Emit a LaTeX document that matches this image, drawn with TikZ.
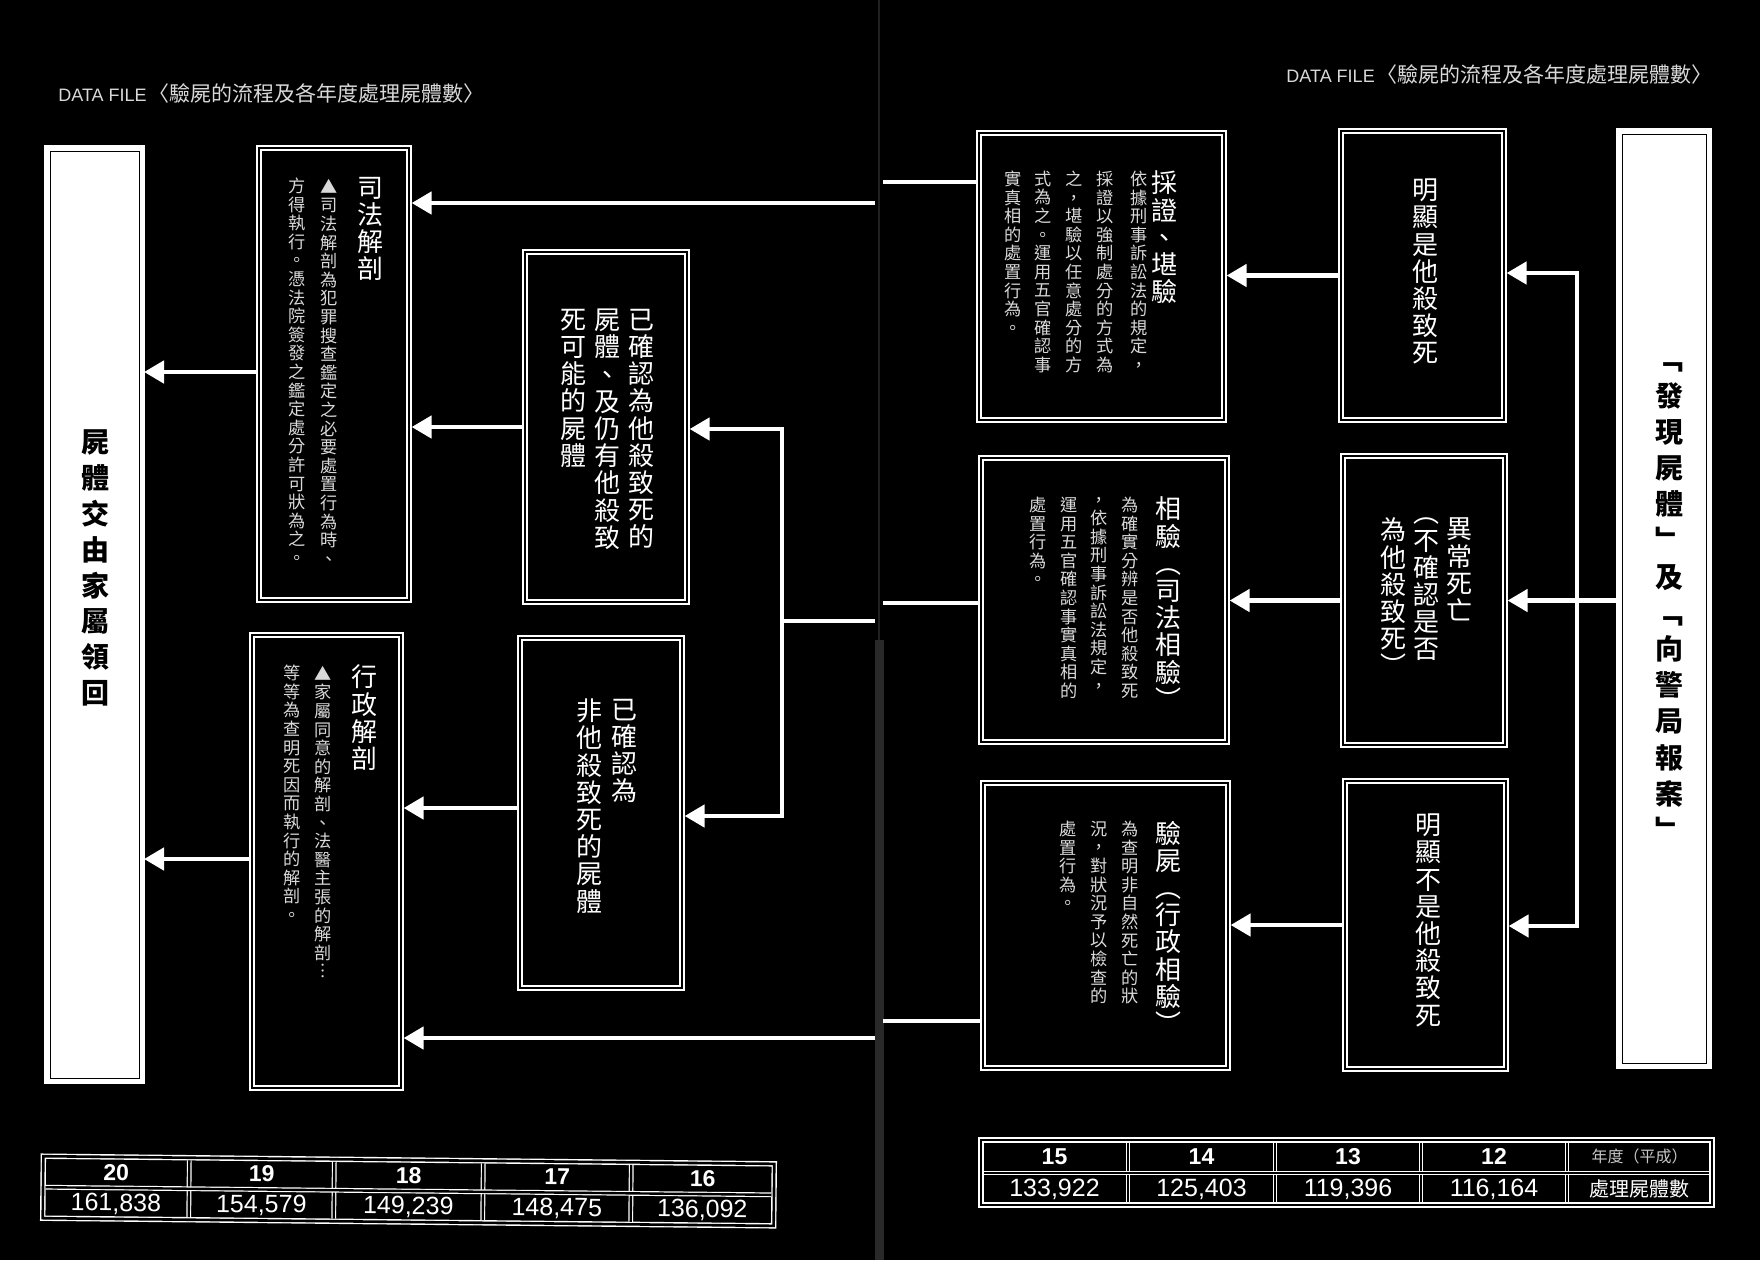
\documentclass[tikz,border=0pt]{standalone}
\usepackage{fontspec}
\usetikzlibrary{arrows.meta}
\newfontfamily\cjk{Noto Sans CJK TC}
\newfontfamily\latf{Liberation Sans}
\def\vtA#1#2{\hbox to 1em{\hss#1\hss}\ifx\relax#2\else\expandafter\vtA\expandafter#2\fi}
\newcommand\vchars[1]{\vbox{\lineskiplimit=-100pt\relax\vtA#1\relax}}
\tikzset{
  dbox/.style={rectangle, draw=white, line width=0.7pt, double=black, double distance=1.3pt, inner sep=0pt, outer sep=1.3pt},
  wbox/.style={rectangle, fill=white, draw=white, line width=0.6pt, inner sep=0pt, outer sep=0pt},
  wire/.style={draw=white, line width=2.3pt},
  arr/.style={wire, -{Triangle[length=10pt,width=11pt]}},
  arr2/.style={wire, {Triangle[length=10pt,width=11pt]}-{Triangle[length=10pt,width=11pt]}},
  vt/.style={inner sep=0pt, outer sep=0pt, anchor=north, text=white},
  ttl/.style={vt, font={\cjk\fontsize{13}{13.6}\selectfont}},
  dsc/.style={vt, text=white!85!black, font={\cjk\fontsize{8.6}{9.3}\selectfont}},
  big/.style={vt, text=black, font={\cjk\bfseries\fontsize{14}{17.9}\selectfont}},
  dline/.style={draw=white, line width=0.6pt, double=black, double distance=1.2pt},
  frame/.style={rectangle, draw=white, line width=0.7pt, double=black, double distance=1.3pt, inner sep=0pt, outer sep=0pt},
  yr/.style={inner sep=0pt, text=white, font={\latf\bfseries\fontsize{11.5}{11.5}\selectfont}},
  num/.style={inner sep=0pt, text=white, font={\latf\fontsize{12.5}{12.5}\selectfont}},
  ttlbar/.style={anchor=west, inner sep=0pt, text=white!85!black, font={\latf\fontsize{9}{9}\selectfont}},
}
\begin{document}
\begin{tikzpicture}[x=0.5pt,y=-0.5pt]
\useasboundingbox (0,0) rectangle (1760,1260);
\fill[black] (0,0) rectangle (1760,1260);
% gutter
\fill[black!84!white] (875,640) rectangle (884,1260);
\draw[black!88!white, line width=1pt] (879,0) -- (879,640);

% boxes
\node[wbox, minimum width=49.5pt, minimum height=468.5pt] (WL) at (94.5,614.5) {};
\draw[black, line width=0.5pt] ([shift={(5,5)}]WL.north west) rectangle ([shift={(-5,-5)}]WL.south east);
\node[dbox, minimum width=75pt, minimum height=226pt] (SJ) at (334,374) {};
\node[dbox, minimum width=74.5pt, minimum height=226.5pt] (XJ) at (326.5,861.5) {};
\node[dbox, minimum width=81pt, minimum height=175pt] (G) at (606,427) {};
\node[dbox, minimum width=81pt, minimum height=175pt] (H) at (601,813) {};
\node[dbox, minimum width=122.5pt, minimum height=143.5pt] (D) at (1101.5,276.5) {};
\node[dbox, minimum width=123pt, minimum height=142pt] (E) at (1104,600) {};
\node[dbox, minimum width=122.5pt, minimum height=142.5pt] (F) at (1105.5,925.5) {};
\node[dbox, minimum width=81.5pt, minimum height=144.5pt] (A) at (1422.5,275.5) {};
\node[dbox, minimum width=81pt, minimum height=144.5pt] (B) at (1424,600.5) {};
\node[dbox, minimum width=80.5pt, minimum height=144pt] (C) at (1425.5,925) {};
\node[wbox, minimum width=47pt, minimum height=469.5pt] (WR) at (1664,598.5) {};
\draw[black, line width=0.5pt] ([shift={(5,5)}]WR.north west) rectangle ([shift={(-5,-5)}]WR.south east);

% texts
\node[big] (WLt) at (95,430) {\vchars{屍體交由家屬領回}};
\node[big, font={\cjk\bfseries\fontsize{14}{18.1}\selectfont}] (WRt) at (1669,363) {\vchars{﹁發現屍體﹂及﹁向警局報案﹂}};

\node[ttl] (SJt) at (370,177) {\vchars{司法解剖}};
\node[dsc] (SJd1) at (329,179) {\vchars{▲司法解剖為犯罪搜查鑑定之必要處置行為時、}};
\node[dsc] (SJd2) at (297,178) {\vchars{方得執行。憑法院簽發之鑑定處分許可狀為之。}};

\node[ttl] (XJt) at (364,665) {\vchars{行政解剖}};
\node[dsc] (XJd1) at (323,666) {\vchars{▲家屬同意的解剖、法醫主張的解剖︙}};
\node[dsc] (XJd2) at (292,665) {\vchars{等等為查明死因而執行的解剖。}};

\node[ttl] (Gc1) at (641,309) {\vchars{已確認為他殺致死的}};
\node[ttl] (Gc2) at (607,309) {\vchars{屍體、及仍有他殺致}};
\node[ttl] (Gc3) at (573,309) {\vchars{死可能的屍體}};

\node[ttl] (Hc1) at (624,699) {\vchars{已確認為}};
\node[ttl] (Hc2) at (589,699) {\vchars{非他殺致死的屍體}};

\node[ttl] (Dt) at (1164,171) {\vchars{採證、堪驗}};
\node[dsc] (Dd1) at (1139,171) {\vchars{依據刑事訴訟法的規定，}};
\node[dsc] (Dd2) at (1105,171) {\vchars{採證以強制處分的方式為}};
\node[dsc] (Dd3) at (1074,171) {\vchars{之，堪驗以任意處分的方}};
\node[dsc] (Dd4) at (1043,171) {\vchars{式為之。運用五官確認事}};
\node[dsc] (Dd5) at (1013,171) {\vchars{實真相的處置行為。}};

\node[ttl] (Et) at (1168,497) {\vchars{相驗︵司法相驗︶}};
\node[dsc] (Ed1) at (1130,497) {\vchars{為確實分辨是否他殺致死}};
\node[dsc] (Ed2) at (1099,497) {\vchars{，依據刑事訴訟法規定，}};
\node[dsc] (Ed3) at (1069,497) {\vchars{運用五官確認事實真相的}};
\node[dsc] (Ed4) at (1038,497) {\vchars{處置行為。}};

\node[ttl] (Ft) at (1168,821) {\vchars{驗屍︵行政相驗︶}};
\node[dsc] (Fd1) at (1130,821) {\vchars{為查明非自然死亡的狀}};
\node[dsc] (Fd2) at (1099,821) {\vchars{況，對狀況予以檢查的}};
\node[dsc] (Fd3) at (1068,821) {\vchars{處置行為。}};

\node[ttl] (At) at (1425,179) {\vchars{明顯是他殺致死}};
\node[ttl] (Bc1) at (1459,518) {\vchars{異常死亡}};
\node[ttl] (Bc2) at (1426,518) {\vchars{︵不確認是否}};
\node[ttl] (Bc3) at (1393,518) {\vchars{為他殺致死︶}};
\node[ttl] (Ct) at (1428,814) {\vchars{明顯不是他殺致死}};

% connectors
\coordinate (r1) at (1577,273);
\coordinate (r2) at (1577,926);
\draw[arr] (WR.west |- B.east) -- (B.east);
\draw[arr2] (A.east |- r1) -- (r1) -- (r2) -- (C.east |- r2);
\draw[arr] (A.west) -- (D.east |- A.west);
\draw[arr] (B.west) -- (E.east |- B.west);
\draw[arr] (C.west) -- (F.east |- C.west);

\coordinate (g1r) at (883,182); \coordinate (g1l) at (875,203);
\coordinate (g2r) at (883,603); \coordinate (g2l) at (875,621);
\coordinate (g3r) at (883,1021); \coordinate (g3l) at (875,1038);
\coordinate (j1) at (782,429); \coordinate (j2) at (782,621); \coordinate (j3) at (782,816);
\draw[wire] (D.west |- g1r) -- (g1r);
\draw[arr] (g1l) -- (SJ.east |- g1l);
\draw[wire] (E.west |- g2r) -- (g2r);
\draw[wire] (g2l) -- (j2);
\draw[arr2] (G.east |- j1) -- (j1) -- (j3) -- (H.east |- j3);
\draw[wire] (F.west |- g3r) -- (g3r);
\draw[arr] (g3l) -- (XJ.east |- g3l);
\draw[arr] (G.west) -- (SJ.east |- G.west);
\coordinate (k1) at (0,808);
\draw[arr] (H.west |- k1) -- (XJ.east |- k1);
\coordinate (k2) at (0,372);
\draw[arr] (SJ.west |- k2) -- (WL.east |- k2);
\coordinate (k3) at (0,859);
\draw[arr] (XJ.west |- k3) -- (WL.east |- k3);

% titles
\node[ttlbar] (TL) at (58,93) {DATA FILE\hspace{1pt}{\cjk\fontsize{10.5}{10.5}\selectfont 〈驗屍的流程及各年度處理屍體數〉}};
\node[ttlbar] (TR) at (1286,74) {DATA FILE\hspace{1pt}{\cjk\fontsize{10.5}{10.5}\selectfont 〈驗屍的流程及各年度處理屍體數〉}};

% left table
\begin{scope}[rotate around={-0.6:(408.5,1191)}, transform shape]
\node[frame, minimum width=365.5pt, minimum height=31pt] (LT) at (408.5,1191) {};
\foreach \xx in {189,334,483,631} \draw[dline, shorten >=1.3pt, shorten <=1.3pt] (\xx,1160) -- (\xx,1222);
\draw[dline, shorten >=1.3pt, shorten <=1.3pt] (43,1191) -- (774,1191);
\node[yr] (y20) at (116,1175.5) {20};
\node[yr] (y19) at (261.5,1175.5) {19};
\node[yr] (y18) at (408.5,1175.5) {18};
\node[yr] (y17) at (557,1175.5) {17};
\node[yr] (y16) at (702.5,1175.5) {16};
\node[num] (n20) at (116,1207) {161,838};
\node[num] (n19) at (261.5,1207) {154,579};
\node[num] (n18) at (408.5,1207) {149,239};
\node[num] (n17) at (557,1207) {148,475};
\node[num] (n16) at (702.5,1207) {136,092};
\end{scope}

% right table
\node[frame, minimum width=365.5pt, minimum height=32.5pt] (RT) at (1346.5,1172.5) {};
\foreach \xx in {1128,1275,1421,1567} \draw[dline, shorten >=1.3pt, shorten <=1.3pt] (\xx,1140) -- (\xx,1205);
\draw[dline, shorten >=1.3pt, shorten <=1.3pt] (981,1173) -- (1712,1173);
\node[yr] (y15) at (1054.5,1156.5) {15};
\node[yr] (y14) at (1201.5,1156.5) {14};
\node[yr] (y13) at (1348,1156.5) {13};
\node[yr] (y12) at (1494,1156.5) {12};
\node[inner sep=0pt, text=white!78!black, font={\cjk\fontsize{8}{8}\selectfont}] (yl) at (1639.5,1156.5) {年度（平成）};
\node[num] (n15) at (1054.5,1189) {133,922};
\node[num] (n14) at (1201.5,1189) {125,403};
\node[num] (n13) at (1348,1189) {119,396};
\node[num] (n12) at (1494,1189) {116,164};
\node[inner sep=0pt, text=white, font={\cjk\fontsize{10}{10}\selectfont}] (nl) at (1639.5,1189) {處理屍體數};
\end{tikzpicture}
\end{document}
